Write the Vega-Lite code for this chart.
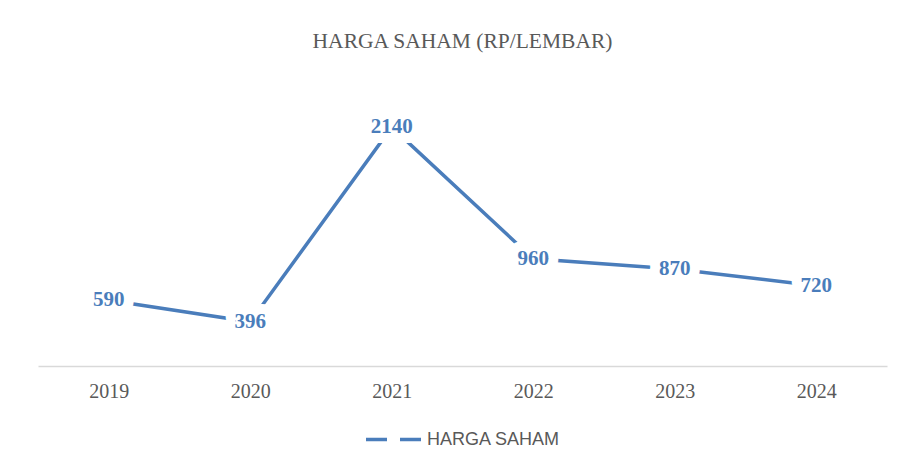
{
  "$schema": "https://vega.github.io/schema/vega-lite/v6.json",
  "width": 849,
  "height": 279,
  "autosize": {"type": "none"},
  "padding": {"left": 38, "top": 87, "right": 14, "bottom": 105},
  "background": "white",
  "config": {
    "view": {"stroke": null},
    "legend": {"layout": {"bottom": {"anchor": "middle"}}}
  },
  "title": {
    "text": "HARGA SAHAM (RP/LEMBAR)",
    "font": "Liberation Serif",
    "fontSize": 21.5,
    "fontWeight": "normal",
    "color": "#595959",
    "anchor": "middle",
    "offset": 35
  },
  "data": {
    "values": [
      {"tahun": "2019", "harga": 590},
      {"tahun": "2020", "harga": 396},
      {"tahun": "2021", "harga": 2140},
      {"tahun": "2022", "harga": 960},
      {"tahun": "2023", "harga": 870},
      {"tahun": "2024", "harga": 720}
    ]
  },
  "encoding": {
    "x": {
      "field": "tahun",
      "type": "ordinal",
      "scale": {"type": "point", "padding": 0.5},
      "axis": {
        "title": null,
        "labelAngle": 0,
        "ticks": false,
        "grid": false,
        "domainColor": "#d9d9d9",
        "domainWidth": 1.5,
        "labelFont": "Liberation Serif",
        "labelFontSize": 20,
        "labelColor": "#595959",
        "labelPadding": 15
      }
    },
    "y": {
      "field": "harga",
      "type": "quantitative",
      "scale": {"domain": [0, 2500]},
      "axis": null
    }
  },
  "layer": [
    {
      "mark": {"type": "line", "strokeWidth": 3.5},
      "encoding": {
        "color": {
          "datum": "HARGA SAHAM",
          "scale": {"range": ["#4a7dbb"]},
          "legend": {
            "title": null,
            "orient": "bottom",
            "symbolType": "stroke",
            "symbolSize": 3025,
            "symbolStrokeWidth": 3.5,
            "symbolDash": [21, 13],
            "symbolStrokeColor": "#4a7dbb",
            "labelFont": "Liberation Sans",
            "labelFontSize": 18,
            "labelColor": "#595959",
            "labelOffset": 4,
            "offset": 9
          }
        }
      }
    },
    {
      "mark": {
        "type": "text",
        "font": "Liberation Serif",
        "fontSize": 21,
        "fontWeight": "bold",
        "fill": "white",
        "stroke": "white",
        "strokeWidth": 20,
        "strokeJoin": "round",
        "baseline": "middle",
        "align": "center"
      },
      "encoding": {"text": {"field": "harga", "type": "quantitative"}}
    },
    {
      "mark": {
        "type": "text",
        "font": "Liberation Serif",
        "fontSize": 21,
        "fontWeight": "bold",
        "color": "#4a7dbb",
        "baseline": "middle",
        "align": "center"
      },
      "encoding": {"text": {"field": "harga", "type": "quantitative"}}
    }
  ]
}
